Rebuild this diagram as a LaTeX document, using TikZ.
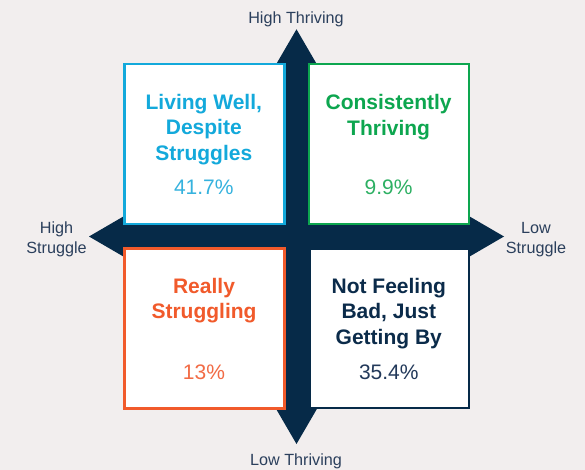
\documentclass[tikz,border=0pt]{standalone}
\usepackage{fontspec}
\setmainfont{Liberation Sans}
\definecolor{bgc}{HTML}{F2EEEE}
\definecolor{navy}{HTML}{062A48}
\definecolor{cyanc}{HTML}{13A9DB}
\definecolor{greenc}{HTML}{0DA64F}
\definecolor{orangec}{HTML}{F15A2B}
\definecolor{navytext}{HTML}{0B2B4A}
\definecolor{axistext}{HTML}{2B3F5C}
\definecolor{cyanp}{HTML}{35B2DE}
\definecolor{greenp}{HTML}{2DB063}
\definecolor{orangep}{HTML}{F26B45}
\definecolor{navyp}{HTML}{22395A}
\tikzset{
  quadbox/.style={draw, fill=white, line width=2.5pt, minimum width=160pt, minimum height=160pt, inner sep=0pt},
  titleline/.style={anchor=base, inner sep=0pt, font=\fontsize{21}{25.5}\selectfont\bfseries},
  pctline/.style={anchor=base, inner sep=0pt, font=\fontsize{21}{24}\selectfont},
  axislabel/.style={anchor=base, inner sep=0pt, text=axistext, font=\fontsize{16.2}{19}\selectfont}
}
\begin{document}
\begin{tikzpicture}[x=1pt,y=-1pt]
\useasboundingbox[fill=bgc] (0,0) rectangle (585,470);
% cross arrows
\fill[navy] (296.5,29.3) -- (328.5,84.3) -- (310.5,84.3) -- (310.5,222.5) -- (449,222.5) -- (449,204.5) -- (504,236.5) -- (449,268.5) -- (449,250.5) -- (310.5,250.5) -- (310.5,389) -- (328.5,389) -- (296.5,444) -- (264.5,389) -- (282.5,389) -- (282.5,250.5) -- (144,250.5) -- (144,268.5) -- (89,236.5) -- (144,204.5) -- (144,222.5) -- (282.5,222.5) -- (282.5,84.3) -- (264.5,84.3) -- cycle;
% boxes
\node[quadbox, draw=cyanc] (tl) at (204.6,143.9) {};
\node[quadbox, draw=greenc] (tr) at (388.8,143.9) {};
\node[quadbox, draw=orangec] (bl) at (204.6,328.5) {};
\node[quadbox, draw=navy, line width=2pt, minimum width=159pt, minimum height=159pt] (br) at (389.2,328.7) {};
% TL text
\node[titleline, text=cyanc] (tl1) at (203.8,109.3) {Living Well,};
\node[titleline, text=cyanc] (tl2) at (203.8,135) {Despite};
\node[titleline, text=cyanc] (tl3) at (203.8,160.5) {Struggles};
\node[pctline, text=cyanp] (tlp) at (203.8,195) {41.7\%};
% TR text
\node[titleline, text=greenc] (tr1) at (388.6,109.8) {Consistently};
\node[titleline, text=greenc] (tr2) at (388.6,135.3) {Thriving};
\node[pctline, text=greenp] (trp) at (388.6,195) {9.9\%};
% BL text
\node[titleline, text=orangec] (bl1) at (204,293.3) {Really};
\node[titleline, text=orangec] (bl2) at (204,318.6) {Struggling};
\node[pctline, text=orangep] (blp) at (204,379) {13\%};
% BR text
\node[titleline, text=navytext] (br1) at (388.8,293.3) {Not Feeling};
\node[titleline, text=navytext] (br2) at (388.8,318.8) {Bad, Just};
\node[titleline, text=navytext] (br3) at (388.8,344.3) {Getting By};
\node[pctline, text=navyp] (brp) at (388.8,379) {35.4\%};
% axis labels
\node[axislabel] (ht) at (296,23.3) {High Thriving};
\node[axislabel] (lt) at (296,465) {Low Thriving};
\node[axislabel] (hs1) at (56.5,233.3) {High};
\node[axislabel] (hs2) at (56.5,253.3) {Struggle};
\node[axislabel] (ls1) at (536,233.3) {Low};
\node[axislabel] (ls2) at (536,253.3) {Struggle};
\end{tikzpicture}
\end{document}
